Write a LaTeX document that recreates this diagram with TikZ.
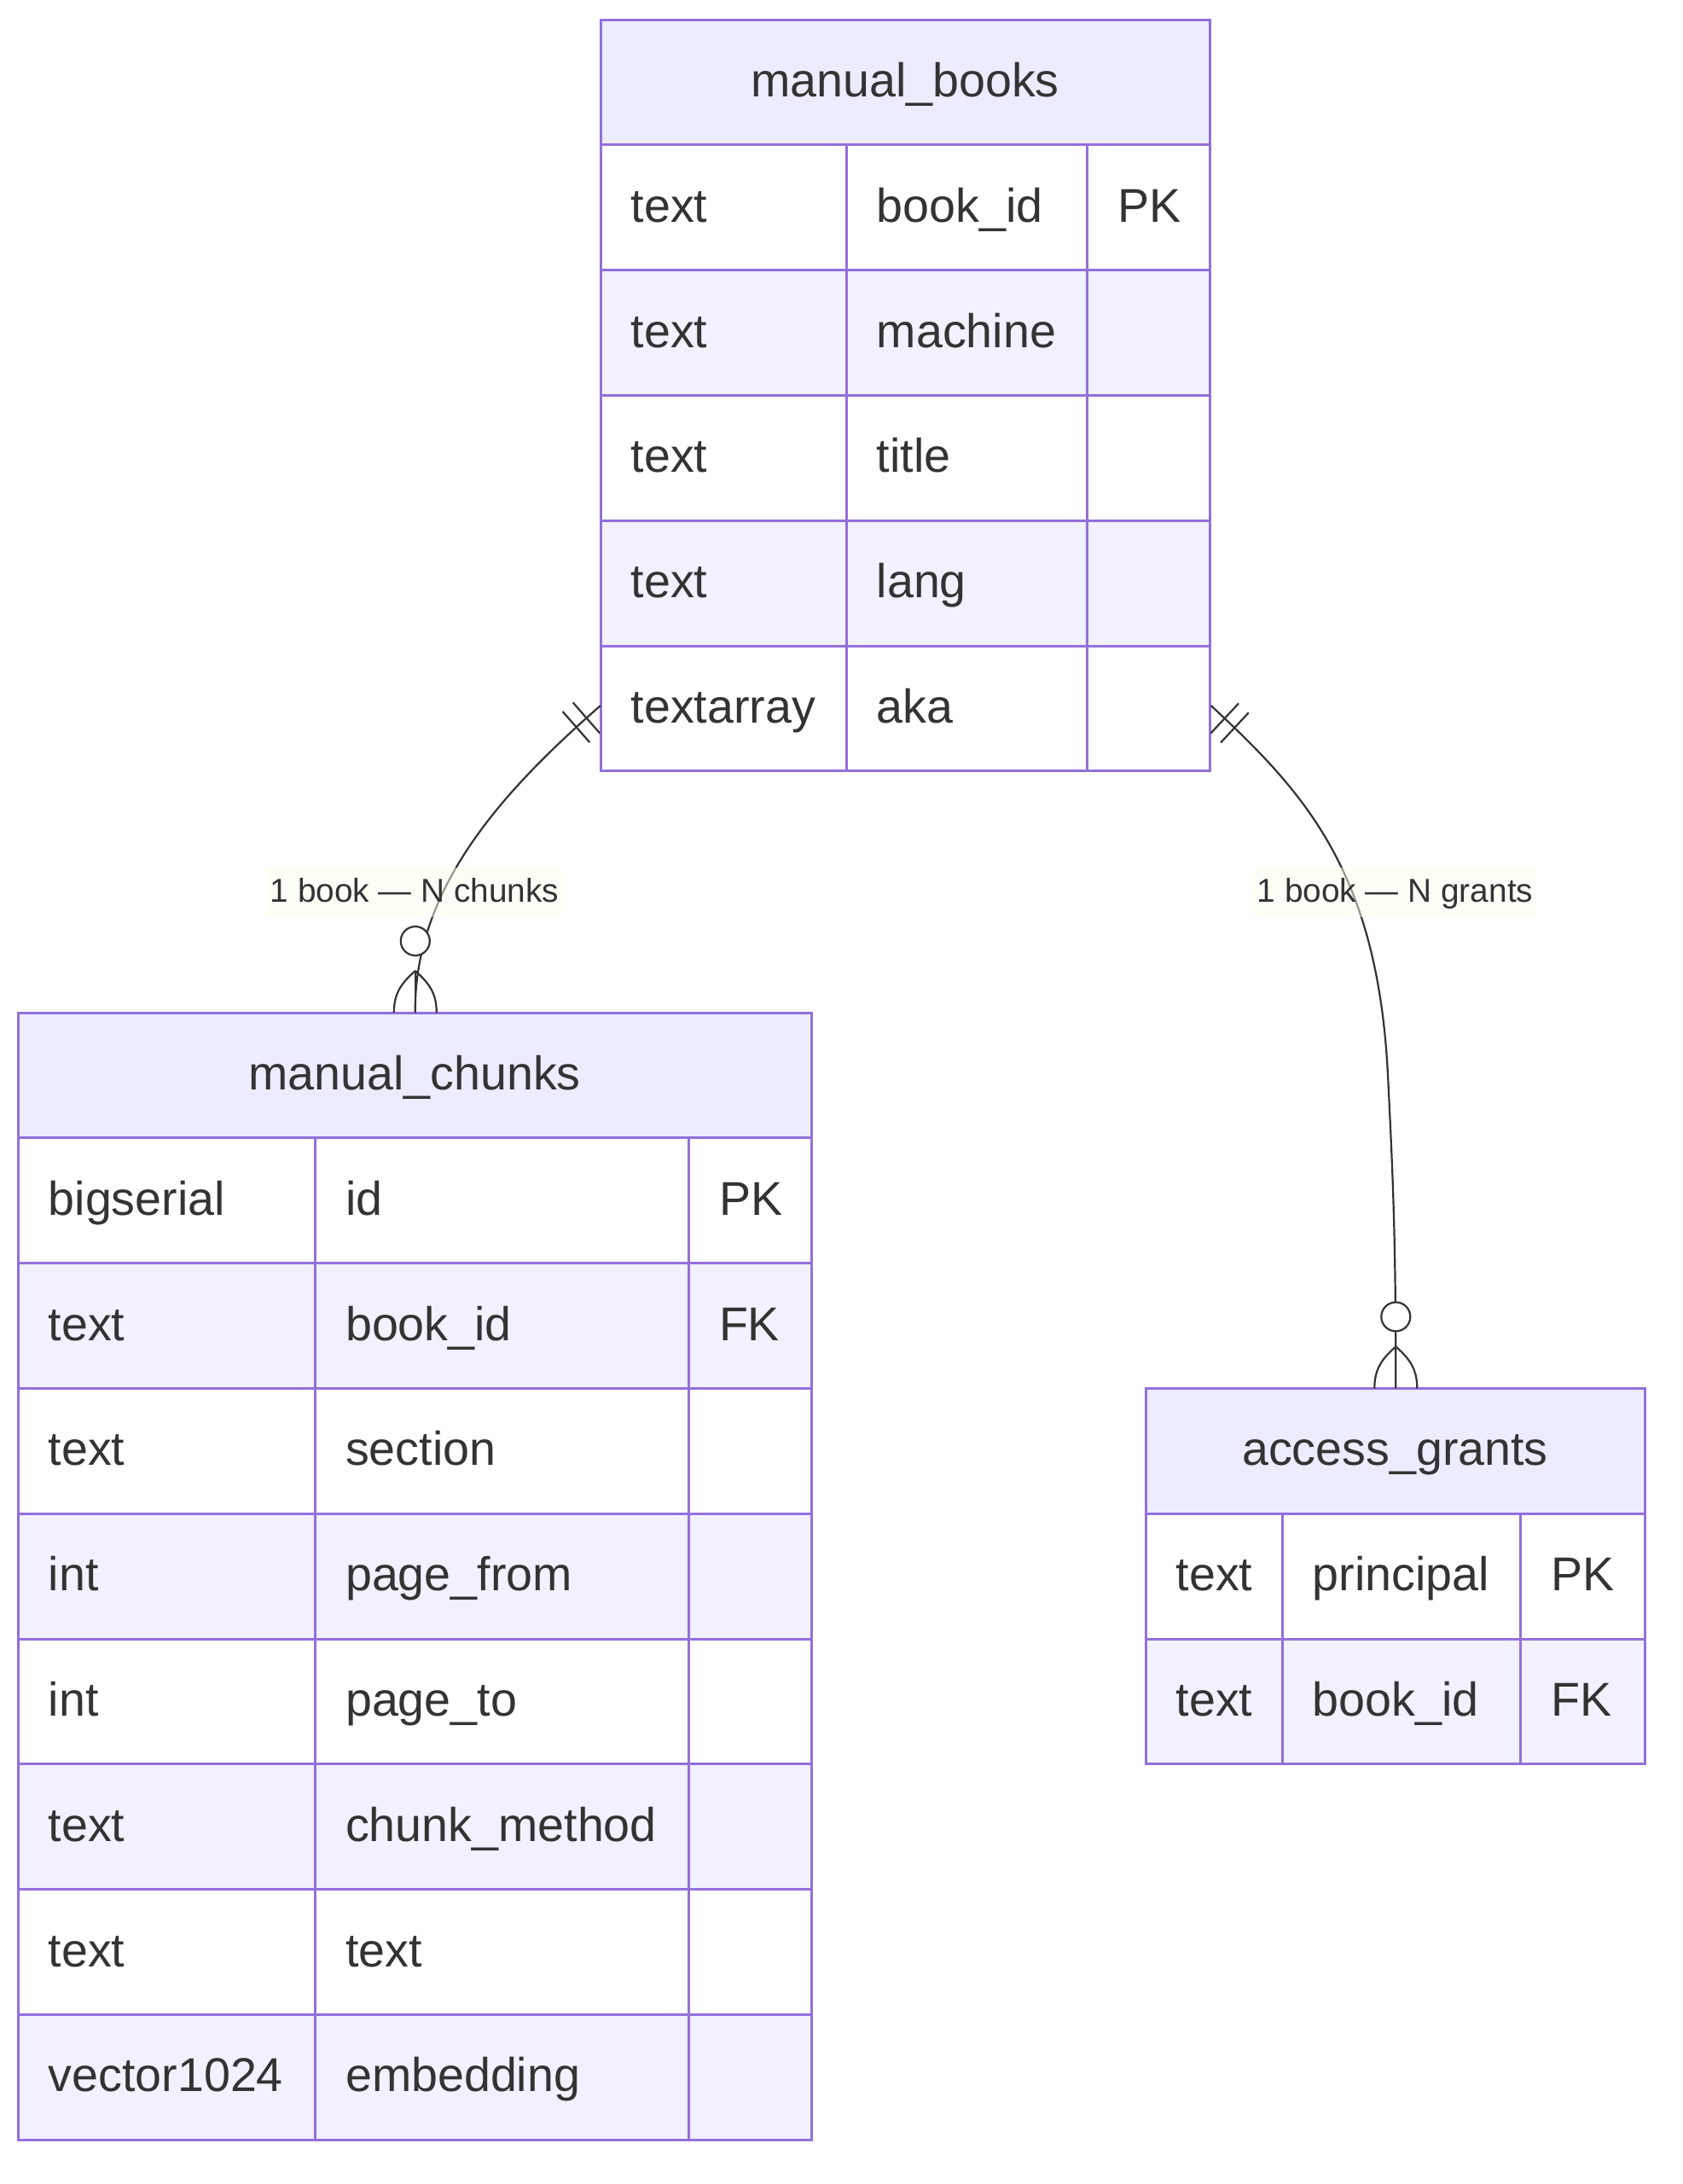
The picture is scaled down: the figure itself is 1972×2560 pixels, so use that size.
\documentclass[tikz,border=0pt]{standalone}
\usepackage{fontspec}
\setmainfont{Liberation Sans}
\usetikzlibrary{calc}
\definecolor{erborder}{HTML}{9370DB}
\definecolor{erhead}{HTML}{ECECFF}
\definecolor{ereven}{HTML}{F1F1FF}
\definecolor{ertext}{HTML}{333333}
\definecolor{erline}{HTML}{333333}
\definecolor{lblbg}{HTML}{F9FFEC}
\tikzset{
  cellbox/.style={draw=erborder, line width=0.75pt},
  enttitle/.style={anchor=base, inner sep=0pt, text=ertext, font=\fontsize{13.9}{16}\selectfont},
  attrtext/.style={anchor=base west, inner sep=0pt, text=ertext, font=\fontsize{13.9}{16}\selectfont},
  entbody/.style={inner sep=0pt, anchor=north west, draw=none},
  relline/.style={draw=erline, line width=0.55pt},
  rellabel/.style={fill=lblbg, fill opacity=0.5, text opacity=1, text=ertext,
    font=\fontsize{9.7}{11}\selectfont, inner xsep=1pt, inner ysep=0pt,
    text height=10pt, text depth=4.5pt},
  zerocircle/.style={draw=erline, line width=0.55pt, fill=white},
}
\def\rh{146.8}
% #1 name, #2 L, #3 c1, #4 c2, #5 R, #6 T, #7 title, #8 rows
\newcommand\erentity[8]{%
  \path[cellbox, fill=erhead] (#2,#6) rectangle (#5,{#6+\rh});
  \node[enttitle] (#1-t) at ({(#2+#5)/2},{#6+\rh/2+17}) {#7};
  \foreach \ty/\nm/\ky [count=\i] in {#8} {
    \pgfmathsetmacro\rtop{#6+\i*\rh}
    \pgfmathsetmacro\rbot{\rtop+\rh}
    \pgfmathsetmacro\rbase{\rtop+\rh/2+17}
    \ifodd\i \def\cf{white}\else\def\cf{ereven}\fi
    \path[cellbox, fill=\cf] (#2,\rtop) rectangle (#3,\rbot);
    \path[cellbox, fill=\cf] (#3,\rtop) rectangle (#4,\rbot);
    \path[cellbox, fill=\cf] (#4,\rtop) rectangle (#5,\rbot);
    \node[attrtext] (#1-\i-a) at ({#2+35},\rbase) {\ty};
    \node[attrtext] (#1-\i-b) at ({#3+35},\rbase) {\nm};
    \node[attrtext] (#1-\i-c) at ({#4+35},\rbase) {\ky};
  }
}
\begin{document}
\begin{tikzpicture}[x=0.25pt, y=-0.25pt]
\useasboundingbox (0,0) rectangle (1972,2560);

% entities
\erentity{mbk}{704}{992}{1274.5}{1418}{23}{manual\_books}%
  {text/book\_id/PK, text/machine/, text/title/, text/lang/, textarray/aka/}
\node[entbody, minimum width=178.5pt, minimum height=220.2pt] (mb) at (704,23) {};

\erentity{mch}{21}{369.3}{807.2}{951}{1187}{manual\_chunks}%
  {bigserial/id/PK, text/book\_id/FK, text/section/, int/page\_from/, int/page\_to/,
   text/chunk\_method/, text/text/, vector1024/embedding/}
\node[entbody, minimum width=232.5pt, minimum height=330.3pt] (mc) at (21,1187) {};

\erentity{agr}{1343}{1503}{1782.7}{1928}{1627.4}{access\_grants}%
  {text/principal/PK, text/book\_id/FK}
\node[entbody, minimum width=146.25pt, minimum height=110.1pt] (ag) at (1343,1627.4) {};

% connection points
\coordinate (mbL) at ($(mb.north west)+(0,804)$);
\coordinate (mbR) at ($(mb.north east)+(0,804)$);
\coordinate (mcT) at (mc.north);
\coordinate (agT) at (ag.north);
\coordinate (lc1) at (591,926);
\coordinate (rc1) at (1528,928);
\coordinate (rmid) at (1627,1260);

% relation 1: manual_books -> manual_chunks
\draw[relline] (mbL) .. controls (lc1) and (485,1040) .. (mcT);
% relation 2: manual_books -> access_grants
\draw[relline] (mbR) .. controls (rc1) and (1615,1020) .. (rmid)
  .. controls (1633,1380) and ($(agT)+(0,-177)$) .. (agT);

% only-one markers
\foreach \s/\c/\p in {mbL/lc1/l, mbR/rc1/r} {
  \coordinate (\p b1) at ($(\s)!5.5pt!(\c)$);
  \coordinate (\p b2) at ($(\s)!9.5pt!(\c)$);
  \draw[relline] ($(\p b1)!6pt!90:(\s)$) -- ($(\p b1)!6pt!-90:(\s)$);
  \draw[relline] ($(\p b2)!6pt!90:(\s)$) -- ($(\p b2)!6pt!-90:(\s)$);
}

% zero-or-more markers
\foreach \e/\p in {mcT/l, agT/r} {
  \coordinate (\p apex) at ($(\e)+(0,-49)$);
  \coordinate (\p footL) at ($(\e)+(-25,0)$);
  \coordinate (\p footR) at ($(\e)+(25,0)$);
  \draw[relline] (\p apex) -- (\e);
  \draw[relline] (\p apex) .. controls ($(\p apex)+(-17,15)$) and ($(\p footL)+(0,-22)$) .. (\p footL);
  \draw[relline] (\p apex) .. controls ($(\p apex)+(17,15)$) and ($(\p footR)+(0,-22)$) .. (\p footR);
  \node[zerocircle, circle, inner sep=0pt, minimum size=8.5pt] (\p zero) at ($(\e)+(0,-84)$) {};
}

% relation labels
\node[rellabel] (lab1) at (486,1046) {1 book — N chunks};
\node[rellabel] (lab2) at (1635.5,1046) {1 book — N grants};
\end{tikzpicture}
\end{document}
